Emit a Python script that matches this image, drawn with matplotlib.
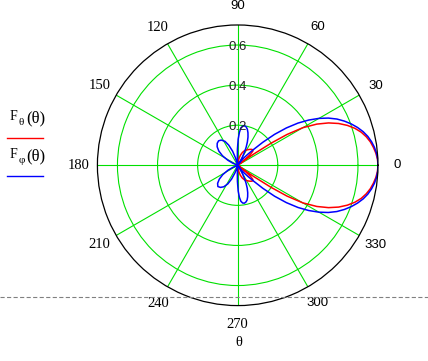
import numpy as np
import matplotlib
matplotlib.use("Agg")
import matplotlib.pyplot as plt
from matplotlib.lines import Line2D

plt.rcParams['lines.scale_dashes'] = False

# F_theta (red): angle in degrees, radius
theta_red = [0, 2.5, 5, 7.5, 10, 12.5, 15, 17.5, 20, 22.5, 25, 27.5, 30, 32, 33.5, 35, 36, 37,
             39, 41, 43, 46, 50, 55, 60, 65, 70, 75, 80, 84, 87,
             273, 276, 280, 285, 290, 295, 300, 305, 310, 314, 317, 319, 321, 323,
             324, 325, 326.5, 328, 330, 332.5, 335, 337.5, 340, 342.5, 345, 347.5, 350,
             352.5, 355, 357.5, 360]
r_red = [0.700, 0.698, 0.692, 0.683, 0.672, 0.657, 0.638, 0.613, 0.582, 0.545, 0.500, 0.445,
         0.375, 0.290, 0.200, 0.100, 0.040, 0.000,
         0.050, 0.085, 0.103, 0.108, 0.104, 0.096, 0.088, 0.080, 0.068, 0.052, 0.034, 0.015, 0.000,
         0.000, 0.015, 0.034, 0.052, 0.068, 0.080, 0.088, 0.096, 0.104, 0.108, 0.103, 0.085,
         0.050, 0.000,
         0.040, 0.100, 0.200, 0.290, 0.375, 0.445, 0.500, 0.545, 0.582, 0.613, 0.638, 0.657,
         0.672, 0.683, 0.692, 0.698, 0.700]

# F_phi (blue)
theta_blue = [0, 2.5, 5, 7.5, 10, 12.5, 15, 17.5, 20, 22.5, 25, 27.5, 30, 32.5, 35, 37.5, 40,
              42.5, 45, 47.5, 50, 52.5, 55,
              57.5, 60, 62.5, 65, 67.5, 70, 72.5, 75, 77.5, 80, 82.5, 85, 87, 89, 91, 92.5, 94,
              104, 107, 110, 114, 118, 123, 128, 133, 138, 143, 148, 153, 157, 160,
              200, 203, 207, 212, 217, 222, 227, 232, 237, 242, 246, 250, 253, 256,
              266, 267.5, 269, 271, 273, 275, 277.5, 280, 282.5, 285, 287.5, 290, 292.5, 295,
              297.5, 300, 302.5, 305,
              307.5, 310, 312.5, 315, 317.5, 320, 322.5, 325, 327.5, 330, 332.5, 335, 337.5,
              340, 342.5, 345, 347.5, 350, 352.5, 355, 357.5, 360]
r_blue = [0.700, 0.699, 0.695, 0.688, 0.678, 0.665, 0.648, 0.627, 0.603, 0.576, 0.546, 0.510,
          0.468, 0.420, 0.367, 0.306, 0.240, 0.170, 0.110, 0.075, 0.050, 0.025, 0.000,
          0.020, 0.045, 0.072, 0.100, 0.126, 0.150, 0.170, 0.186, 0.196, 0.200, 0.198, 0.188,
          0.165, 0.130, 0.080, 0.040, 0.000,
          0.000, 0.040, 0.075, 0.110, 0.135, 0.150, 0.155, 0.150, 0.138, 0.118, 0.090, 0.055,
          0.025, 0.000,
          0.000, 0.025, 0.055, 0.088, 0.115, 0.135, 0.145, 0.140, 0.128, 0.105, 0.075, 0.040,
          0.015, 0.000,
          0.000, 0.040, 0.080, 0.128, 0.160, 0.180, 0.190, 0.192, 0.188, 0.180, 0.165, 0.146,
          0.124, 0.098, 0.070, 0.044, 0.020, 0.000,
          0.025, 0.050, 0.075, 0.110, 0.170, 0.240, 0.306, 0.367, 0.420, 0.468, 0.510, 0.546,
          0.576, 0.603, 0.627, 0.648, 0.665, 0.678, 0.688, 0.695, 0.699, 0.700]

r_ticks = [0.2, 0.4, 0.6]
r_max = 0.7
angle_ticks = list(range(0, 360, 30))
serif_angles = [120, 150, 180, 210, 240, 270]

W, H = 428, 361


def px(x, y):
    return x / W, 1 - y / H


fig = plt.figure(figsize=(W / 100, H / 100), dpi=100)
ax = fig.add_axes([0.2276, 0.1535, 0.6556, 0.7773], projection='polar')
ax.set_ylim(0, r_max)
ax.set_yticks(r_ticks)
ax.set_yticklabels([])
ax.set_xticks(np.deg2rad(angle_ticks))
ax.set_xticklabels([])
ax.tick_params(length=0)
ax.grid(True, color='#00e000', lw=0.8)
ax.spines['polar'].set_color('black')
ax.spines['polar'].set_linewidth(0.9)

ax.plot(np.deg2rad(theta_red), r_red, color='red', lw=1.1)
ax.plot(np.deg2rad(theta_blue), r_blue, color='blue', lw=1.1)

for r in r_ticks:
    ax.text(np.pi / 2, r - 0.009, f"{r:.1f}", ha='center', va='center',
            family='Liberation Sans', fontsize=9.5, color='#222222')

for a in angle_ticks:
    fam = 'Liberation Serif' if a in serif_angles else 'Liberation Sans'
    fs = 10.5 if a in serif_angles else 9.5
    ax.text(np.deg2rad(a), r_max * 1.135, str(a), ha='center', va='center',
            family=fam, fontsize=fs, color='black')

# axis labels at the left
for y0, sub, col in [(120, 'θ', 'red'), (158, 'φ', 'blue')]:
    fig.text(*px(10, y0), 'F', family='Liberation Serif', fontsize=10, va='baseline')
    fig.text(*px(18.5, y0 + 5), sub, family='Liberation Serif', fontsize=8, va='baseline')
    fig.text(*px(26, y0 + 2), '(θ)', family='Liberation Serif', fontsize=12, va='baseline')
    fig.add_artist(Line2D([7 / W, 43 / W], [1 - (y0 + 17.5) / H] * 2, color=col, lw=1))

fig.text(*px(239, 343), 'θ', family='Liberation Serif', fontsize=10.5, ha='center', va='center')

fig.add_artist(Line2D([0, 1], [1 - 297.3 / H] * 2, color='#808080', lw=0.8,
                      dashes=(3, 1.7)))

fig.savefig('out.png', dpi=100)
